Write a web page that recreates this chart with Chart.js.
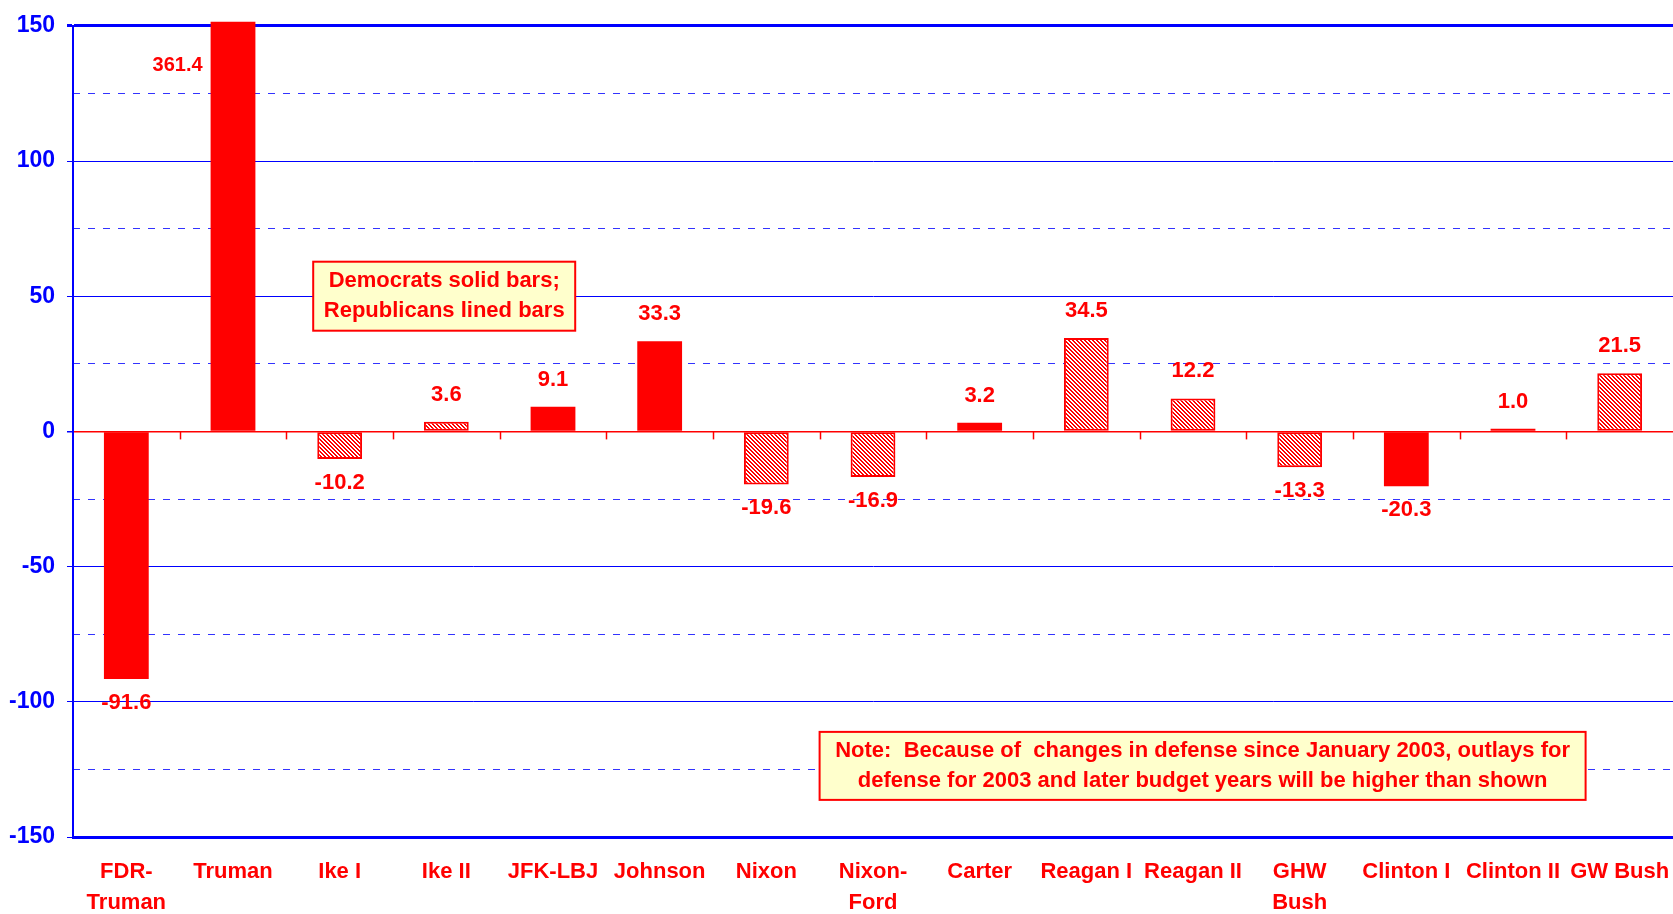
<!DOCTYPE html>
<html>
<head>
<meta charset="utf-8">
<script src="https://cdn.jsdelivr.net/npm/chart.js@4.4.1/dist/chart.umd.min.js"></script>
<style>
  body { margin: 0; background: #fff; }
  #wrap { width: 1673px; height: 914px; }
</style>
</head>
<body>
<div id="wrap"><canvas id="chart"></canvas></div>
<script>
// presidencies
const labels = [['FDR-', 'Truman'], 'Truman', 'Ike I', 'Ike II', 'JFK-LBJ', 'Johnson', 'Nixon', ['Nixon-', 'Ford'],
  'Carter', 'Reagan I', 'Reagan II', ['GHW', 'Bush'], 'Clinton I', 'Clinton II', 'GW Bush'];
const values = [-91.6, 361.4, -10.2, 3.6, 9.1, 33.3, -19.6, -16.9, 3.2, 34.5, 12.2, -13.3, -20.3, 1.0, 21.5];
// D = solid bar, R = lined bar
const party = ['D', 'D', 'R', 'R', 'D', 'D', 'R', 'R', 'D', 'R', 'R', 'R', 'D', 'D', 'R'];
const yMin = -150, yMax = 150;

const partyNote = ['Democrats solid bars;', 'Republicans lined bars'];
const defenseNote = ['Note:  Because of  changes in defense since January 2003, outlays for',
  'defense for 2003 and later budget years will be higher than shown'];

const RED = '#FF0000';
const BLUE = '#0000FF';
const FONT = '"Liberation Sans", Arial, sans-serif';

// hatch for the lined bars
function makeHatch() {
  const c = document.createElement('canvas');
  c.width = 4; c.height = 4;
  const g = c.getContext('2d');
  g.fillStyle = '#ffffff';
  g.fillRect(0, 0, 4, 4);
  g.fillStyle = RED;
  for (let i = 0; i < 4; i++) {
    g.fillRect(i, i, 1, 1);
    g.fillRect((i + 1) % 4, i, 1, 1);
  }
  return g.createPattern(c, 'repeat');
}
const hatch = makeHatch();

const extrasPlugin = {
  id: 'extras',
  beforeDatasetsDraw(chart) {
    const ctx = chart.ctx;
    const xs = chart.scales.x, ys = chart.scales.y;
    const y0 = ys.getPixelForValue(0);
    ctx.save();
    ctx.strokeStyle = RED;
    ctx.lineWidth = 1.5;
    for (let i = 1; i < labels.length; i++) {
      const x = Math.round(xs.getPixelForValue(i - 0.5)) + 0.5;
      ctx.beginPath();
      ctx.moveTo(x, y0);
      ctx.lineTo(x, y0 + 8);
      ctx.stroke();
    }
    ctx.restore();
  },
  afterDatasetsDraw(chart) {
    const ctx = chart.ctx;
    const ys = chart.scales.y;
    const meta = chart.getDatasetMeta(0);
    ctx.save();
    ctx.fillStyle = RED;
    ctx.textBaseline = 'middle';
    meta.data.forEach((bar, i) => {
      const v = values[i];
      const txt = v.toFixed(1);
      if (v > ys.max) {
        ctx.font = 'bold 20px ' + FONT;
        ctx.textAlign = 'right';
        ctx.fillText(txt, bar.x - bar.width / 2 - 8, chart.chartArea.top + 40);
      } else {
        ctx.font = 'bold 22px ' + FONT;
        ctx.textAlign = 'center';
        ctx.fillText(txt, bar.x, v >= 0 ? bar.y - 27 : bar.y + 24);
      }
    });
    ctx.restore();
  },
  afterDraw(chart) {
    const ctx = chart.ctx;
    const xs = chart.scales.x, ys = chart.scales.y;
    function box(lines, cx, cy, w, h) {
      ctx.save();
      ctx.fillStyle = '#FFFFCC';
      ctx.strokeStyle = RED;
      ctx.lineWidth = 2;
      ctx.fillRect(cx - w / 2, cy - h / 2, w, h);
      ctx.strokeRect(cx - w / 2, cy - h / 2, w, h);
      ctx.fillStyle = RED;
      ctx.font = 'bold 22px ' + FONT;
      ctx.textAlign = 'center';
      ctx.textBaseline = 'middle';
      lines.forEach((t, k) => ctx.fillText(t, cx, cy + (k - (lines.length - 1) / 2) * 30));
      ctx.restore();
    }
    box(partyNote, xs.getPixelForValue(2.98), ys.getPixelForValue(50), 262, 69);
    box(defenseNote, xs.getPixelForValue(10.09), ys.getPixelForValue(-123.7), 766, 68);
  }
};

new Chart(document.getElementById('chart'), {
  type: 'bar',
  data: {
    labels: labels,
    datasets: [{
      data: values,
      backgroundColor: ctx => party[ctx.dataIndex] === 'D' ? RED : hatch,
      borderColor: RED,
      borderWidth: ctx => party[ctx.dataIndex] === 'D' ? 0 : 2,
      borderSkipped: false,
      categoryPercentage: 1,
      barPercentage: 0.42,
      clip: { left: 0, top: 4, right: 0, bottom: 0 }
    }]
  },
  plugins: [extrasPlugin],
  options: {
    responsive: true,
    maintainAspectRatio: false,
    animation: false,
    layout: { padding: { top: 21, right: 0, left: 0, bottom: 0 } },
    plugins: { legend: { display: false }, tooltip: { enabled: false } },
    scales: {
      x: {
        grid: { display: true, drawOnChartArea: false, drawTicks: true, tickLength: 20, tickColor: 'rgba(0,0,0,0)' },
        border: { color: BLUE, width: 3 },
        ticks: {
          color: RED,
          font: { family: FONT, size: 22, weight: 'bold', lineHeight: 1.4 },
          padding: 0,
          maxRotation: 0,
          autoSkip: false
        },
        afterFit: s => { s.height = 77; }
      },
      y: {
        min: yMin, max: yMax,
        ticks: {
          stepSize: 50,
          color: BLUE,
          font: { family: FONT, size: 23, weight: 'bold' },
          padding: 12
        },
        grid: {
          color: ctx => ctx.tick && ctx.tick.value === 0 ? RED : BLUE,
          lineWidth: ctx => ctx.tick && ctx.tick.value === yMax ? 3 : (ctx.tick && ctx.tick.value === 0 ? 1.5 : 1),
          tickColor: BLUE,
          tickLength: 6
        },
        border: { color: BLUE, width: 2 },
        afterFit: s => { s.width = 73; }
      },
      yMinor: {
        position: 'left',
        min: yMin, max: yMax,
        ticks: { stepSize: 25, display: false },
        grid: {
          color: ctx => ctx.tick && ctx.tick.value % 50 === 0 ? 'rgba(0,0,0,0)' : '#3333FF',
          drawTicks: false,
          lineWidth: 1
        },
        border: { display: false, dash: [7, 8] },
        afterFit: s => { s.width = 0; }
      }
    }
  }
});
</script>
</body>
</html>
